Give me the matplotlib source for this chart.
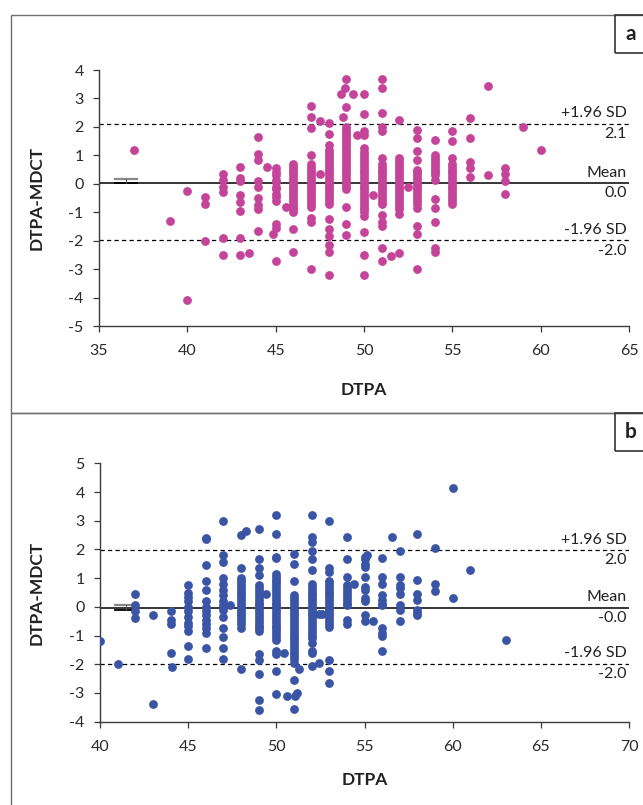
import matplotlib
matplotlib.use('Agg')
import matplotlib.pyplot as plt
import numpy as np
from matplotlib.patches import Rectangle

plt.rcParams['font.family'] = ['Lato', 'DejaVu Sans']
plt.rcParams['axes.unicode_minus'] = False

# ---- panel a data (DTPA vs DTPA-MDCT difference) ----
a_cols = [37, 39, 40, 41, 42, 43, 44, 45, 46, 47, 48, 49, 50, 51, 52, 53, 54, 55, 56, 57, 58, 59, 60]
a_diff = [
    [1.2],
    [-1.3],
    [-0.25, -4.1],
    [-0.45, -0.7, -2.0],
    [0.35, 0.15, -0.1, -0.3, -1.9, -2.5],
    [0.6, 0.2, 0.1, -0.4, -0.65, -0.95, -1.9, -2.5],
    [1.65, 1.05, 0.85, 0.1, -0.1, -0.5, -0.75, -0.9, -1.65],
    [0.55, 0.4, 0.3, 0.15, 0.05, -0.1, -0.2, -0.35, -0.45, -0.6, -1.4, -1.55, -2.7],
    [0.7, 0.6, 0.5, 0.4, 0.3, 0.2, 0.1, 0.0, -0.1, -0.2, -0.3, -0.4, -0.5, -0.6, -0.7, -0.8, -0.9, -1.0,
     -1.6, -2.4],
    [2.75, 2.35, 1.95, 1.0, 0.7, 0.6, 0.5, 0.4, 0.3, 0.2, 0.1, 0.0, -0.1, -0.2, -0.3, -0.4, -0.5, -0.6,
     -0.7, -0.8, -1.2, -1.35, -3.0],
    [2.15, 1.75, 1.35, 1.2, 1.1, 1.0, 0.9, 0.8, 0.7, 0.6, 0.5, 0.4, 0.3, 0.2, 0.1, 0.0, -0.1, -0.2, -0.3,
     -0.4, -0.5, -0.6, -0.7, -1.25, -1.6, -1.85, -2.15, -2.4, -3.2],
    [3.7, 2.7, 2.0, 1.9, 1.8, 1.7, 1.6, 1.5, 1.4, 1.3, 1.2, 1.1, 1.0, 0.9, 0.8, 0.7, 0.6, 0.5, 0.4, 0.3,
     0.2, 0.1, 0.0, -0.1, -0.2, -0.8, -1.4, -1.8],
    [3.15, 2.45, 1.85, 1.7, 1.25, 1.1, 1.0, 0.9, 0.8, 0.7, 0.6, 0.5, 0.4, 0.3, 0.2, 0.1, 0.0, -0.1, -0.2,
     -0.3, -0.4, -0.5, -0.6, -0.7, -0.8, -0.9, -1.0, -1.15, -1.7, -2.5, -3.2],
    [3.7, 3.35, 2.5, 2.0, 1.85, 0.9, 0.7, 0.6, 0.5, 0.4, 0.3, 0.2, 0.1, 0.0, -0.1, -0.2, -0.3, -0.4, -0.5,
     -0.6, -0.7, -1.1, -1.35, -1.5, -2.25, -2.7],
    [2.25, 0.9, 0.8, 0.7, 0.6, 0.5, 0.4, 0.3, 0.2, 0.1, 0.0, -0.1, -0.2, -0.3, -0.4, -0.5, -0.6, -0.7,
     -0.8, -0.9, -1.05, -2.45],
    [1.9, 1.6, 1.15, 0.85, 0.5, 0.4, 0.3, 0.2, 0.1, 0.0, -0.1, -0.2, -0.3, -0.4, -0.5, -0.6, -0.7, -0.85,
     -1.5, -1.75, -3.0],
    [1.55, 1.0, 0.9, 0.8, 0.7, 0.6, 0.5, 0.4, 0.3, 0.15, -0.55, -0.85, -1.35, -2.25, -2.4],
    [1.85, 1.5, 0.9, 0.7, 0.6, 0.5, 0.4, 0.3, 0.2, 0.1, 0.0, -0.1, -0.2, -0.3, -0.4, -0.5, -0.6, -0.7],
    [2.3, 1.6, 0.75, 0.55, 0.25],
    [3.45, 0.3],
    [0.55, 0.35, 0.1, -0.35],
    [2.0],
    [1.2],
]
a_extra_x = [43.5, 44.5, 44.85, 45.6, 47.5, 47.5, 48.7, 48.9, 49.35, 48.8, 49.6, 50.5, 51.5, 52.5]
a_extra_y = [-2.45, 0.6, -1.75, -0.8, 2.2, 0.35, 3.15, 3.35, 3.15, 2.35, 1.7, -0.4, -2.55, -0.1]
a_stats = [0.03, 2.11, -1.98]   # mean, +1.96 SD, -1.96 SD

# ---- panel b data ----
b_cols = [40, 41, 42, 43, 44, 45, 46, 47, 48, 49, 50, 51, 52, 53, 54, 55, 56, 57, 58, 59, 60, 61, 63]
b_diff = [
    [-1.2],
    [-2.0],
    [0.45, 0.05, -0.15, -0.4],
    [-0.3, -3.4],
    [-0.15, -0.45, -0.6, -1.6],
    [0.75, 0.5, 0.35, 0.2, 0.0, -0.15, -0.35, -0.55, -0.65, -0.85, -1.35, -1.8],
    [2.4, 2.35, 1.45, 0.9, 0.6, 0.2, 0.0, -0.15, -0.3, -0.45, -0.6, -0.75, -0.9, -1.45],
    [3.0, 1.8, 1.55, 1.0, 0.8, 0.6, 0.4, 0.2, 0.05, -0.1, -0.35, -0.75, -1.05, -1.45, -1.8],
    [2.5, 1.35, 1.0, 0.9, 0.8, 0.7, 0.6, 0.5, 0.4, 0.3, 0.2, 0.1, 0.0, -0.1, -0.2, -0.3, -0.4, -0.5,
     -0.6, -0.75, -2.15],
    [2.7, 1.65, 1.35, 1.1, 0.75, 0.65, 0.55, 0.45, 0.35, 0.25, 0.15, 0.05, -0.05, -0.15, -0.25, -0.35,
     -0.45, -0.55, -0.65, -0.75, -0.85, -1.65, -1.85, -2.35, -3.25, -3.6],
    [3.2, 2.55, 1.75, 1.7, 1.15, 1.05, 0.95, 0.85, 0.75, 0.65, 0.55, 0.45, 0.35, 0.25, 0.15, 0.05, -0.05,
     -0.15, -0.25, -0.35, -0.45, -0.55, -0.65, -0.75, -0.85, -0.95, -1.05, -1.15, -1.55, -1.65, -2.25,
     -3.05],
    [1.85, 1.5, 0.9, 0.4, 0.3, 0.2, 0.1, 0.0, -0.1, -0.2, -0.3, -0.4, -0.5, -0.6, -0.7, -0.8, -0.9, -1.0,
     -1.1, -1.2, -1.3, -1.4, -1.5, -1.6, -1.7, -1.8, -1.95, -2.55, -3.55],
    [3.2, 2.45, 2.25, 1.95, 1.65, 1.3, 0.8, 0.7, 0.6, 0.5, 0.4, 0.3, 0.2, 0.1, 0.0, -0.1, -0.2, -0.3,
     -0.4, -0.5, -0.6, -0.7, -0.8, -0.9, -1.0, -1.1, -1.25, -1.55, -1.6, -2.05],
    [3.0, 1.35, 1.2, 0.9, 0.8, 0.7, 0.6, 0.5, 0.4, 0.3, 0.2, 0.1, 0.0, -0.1, -0.2, -0.3, -0.4, -0.5,
     -0.6, -0.7, -1.85, -2.25, -2.65],
    [2.45, 1.65, 1.05, 0.75, 0.65, 0.55, 0.45, 0.35, 0.25, 0.15, 0.05, -0.45, -0.6],
    [1.75, 1.65, 1.5, 1.4, 1.05, 0.7, 0.6, 0.3, 0.2, -0.3, -0.5],
    [1.7, 1.05, 0.8, 0.4, 0.25, 0.1, 0.05, -0.75, -0.9, -1.0, -1.55],
    [1.95, 1.05, 0.75, 0.65, 0.45, 0.05, -0.1, -0.5],
    [2.55, 0.95, 0.45, 0.25, -0.1, -0.2, -0.3],
    [2.05, 0.8, 0.55],
    [4.15, 0.3],
    [1.3],
    [-1.15],
]
b_extra_x = [44.1, 47.35, 48.3, 49.4, 50.45, 50.6, 51.3, 51.05, 51.2, 52.4, 52.4, 52.6, 54.4, 55.15,
             55.5, 56.55]
b_extra_y = [-2.1, 0.05, 2.65, 0.45, -1.6, -3.1, -2.15, -3.1, -3.0, -1.95, -0.25, -0.25, 0.8, 1.8,
             -0.5, 2.45]
b_stats = [-0.03, 1.98, -1.98]

W, H = 643, 805
fig = plt.figure(figsize=(W / 100, H / 100), dpi=100)
TXT = '#222222'


def expand(cols, diffs, ex_x, ex_y):
    xs, ys = [], []
    for c, d in zip(cols, diffs):
        xs += [c] * len(d)
        ys += d
    return np.array(xs + ex_x), np.array(ys + ex_y)


def panel(rect, cols, diffs, ex_x, ex_y, stats, color, xlim, ylim, bar_x, bar_y,
          box_top, box_bot, xlab_y, tag):
    axw = rect[2] - rect[0]
    axh = rect[3] - rect[1]
    ax = fig.add_axes([rect[0] / W, 1 - rect[3] / H, axw / W, axh / H])
    x, y = expand(cols, diffs, ex_x, ex_y)
    ax.scatter(x, y, s=40, color=color, linewidths=0, zorder=3)
    mean, up, lo = stats
    ax.axhline(mean, color='black', lw=1.1, zorder=2)
    ax.axhline(up, color='black', lw=0.9, ls=(0, (3.4, 2.6)), zorder=2)
    ax.axhline(lo, color='black', lw=0.9, ls=(0, (3.4, 2.6)), zorder=2)
    for name, v in [('+1.96 SD', up), ('Mean', mean), ('-1.96 SD', lo)]:
        ax.annotate(name, xy=(1, v), xycoords=('axes fraction', 'data'), xytext=(-1.5, 7.5),
                    textcoords='offset points', ha='right', va='center', fontsize=11.5, color=TXT)
        ax.annotate(f"{v:.1f}", xy=(1, v), xycoords=('axes fraction', 'data'), xytext=(-1.5, -7.5),
                    textcoords='offset points', ha='right', va='center', fontsize=11.5, color=TXT)
    # small mean marker near the axis
    ax.plot(bar_x, [bar_y[0], bar_y[0]], color='#888888', lw=1.6, zorder=2)
    ax.plot(bar_x, [bar_y[1], bar_y[1]], color='black', lw=1.3, zorder=2)
    xm = sum(bar_x) / 2
    ax.plot([xm, xm], bar_y, color='#555555', lw=0.8, zorder=2)

    ax.set_xlim(*xlim)
    ax.set_ylim(*ylim)
    ax.set_xticks(np.arange(xlim[0], xlim[1] + 1, 5))
    ax.set_yticks(np.arange(ylim[0], ylim[1] + 1, 1))
    for s in ['top', 'right']:
        ax.spines[s].set_visible(False)
    for s in ['left', 'bottom']:
        ax.spines[s].set_color('#3a3a3a')
        ax.spines[s].set_linewidth(1.0)
    ax.tick_params(direction='out', length=4, width=0.9, color='#3a3a3a', labelsize=11.5,
                   labelcolor='#2a2a2a')
    ax.tick_params(axis='x', pad=9)
    ax.tick_params(axis='y', pad=7)
    ax.set_xlabel('DTPA', fontsize=12.5, fontweight='bold', color=TXT)
    ax.set_ylabel('DTPA-MDCT', fontsize=12.5, fontweight='bold', color=TXT)
    ax.yaxis.set_label_coords((37 - rect[0]) / axw, 0.5)
    ax.xaxis.set_label_coords(0.5, -(xlab_y - rect[3]) / axh)
    ax.xaxis.label.set_va('center')
    ax.yaxis.label.set_va('center')

    # outer frame of the panel
    fig.add_artist(Rectangle((11 / W, 1 - box_bot / H), 1.0, (box_bot - box_top) / H,
                             transform=fig.transFigure, fill=False, edgecolor='#707070', lw=1.0,
                             clip_on=False))
    # letter box
    fig.add_artist(Rectangle((615 / W, 1 - (box_top + 38) / H), 0.2, 38 / H,
                             transform=fig.transFigure, fill=False, edgecolor='#333333', lw=1.2,
                             clip_on=False))
    fig.text(631 / W, 1 - (box_top + 19) / H, tag, fontsize=15, fontweight='bold', ha='center',
             va='center', color=TXT)
    return ax


panel((99, 70, 629, 326), a_cols, a_diff, a_extra_x, a_extra_y, a_stats, '#C4449A',
      (35, 65), (-5, 4), [35.9, 37.15], [0.16, 0.03], 15, 413, 390, 'a')
panel((100, 463.3, 629, 721.7), b_cols, b_diff, b_extra_x, b_extra_y, b_stats, '#3A55A5',
      (40, 70), (-4, 5), [40.85, 42.1], [0.07, -0.11], 413, 830, 780, 'b')

fig.savefig('out.png', dpi=100)
